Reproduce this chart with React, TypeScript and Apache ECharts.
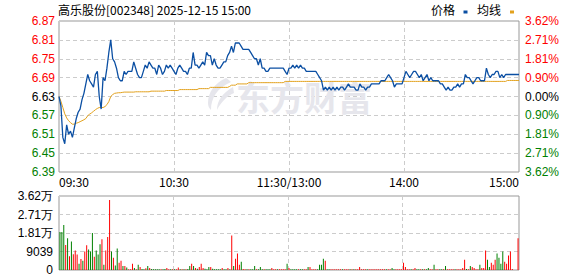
import React, { useEffect, useRef } from "react";
import * as echarts from "echarts";

// ---------- data ----------
const TITLE_TEXT = "高乐股份[002348] 2025-12-15 15:00";
const LEGEND_PRICE = "价格";
const LEGEND_AVG = "均线";
const WATERMARK = "东方财富";
const PRE_CLOSE = 6.63;
const PRICE_SPAN = 0.24; // half range around pre-close
const PRICE_STEP = 0.06;
const VOL_STEP = 9039;
const VOL_MAX = 36156;

const X_TICK_LABELS = ["09:30", "10:30", "11:30/13:00", "14:00", "15:00"];
const X_TICK_EVERY = 60;

const PRICE = [
  6.63, 6.60, 6.50, 6.48, 6.54, 6.51, 6.52, 6.50, 6.53, 6.56,
  6.58, 6.59, 6.62, 6.64, 6.67, 6.70, 6.68, 6.67, 6.66, 6.70,
  6.71, 6.63, 6.59, 6.69, 6.68, 6.72, 6.77, 6.81, 6.75, 6.74,
  6.72, 6.69, 6.68, 6.68, 6.71, 6.70, 6.71, 6.71, 6.71, 6.74,
  6.72, 6.70, 6.69, 6.69, 6.71, 6.73, 6.72, 6.74, 6.73, 6.72,
  6.72, 6.70, 6.73, 6.72, 6.70, 6.71, 6.73, 6.72, 6.73, 6.72,
  6.71, 6.70, 6.72, 6.73, 6.72, 6.71, 6.71, 6.70, 6.72, 6.72,
  6.77, 6.73, 6.73, 6.72, 6.73, 6.74, 6.73, 6.77, 6.76, 6.76,
  6.73, 6.75, 6.73, 6.72, 6.72, 6.73, 6.74, 6.74, 6.76, 6.77,
  6.79, 6.77, 6.80, 6.80, 6.80, 6.79, 6.78, 6.78, 6.78, 6.78,
  6.77, 6.76, 6.75, 6.75, 6.73, 6.75, 6.72, 6.72, 6.71, 6.71,
  6.72, 6.72, 6.72, 6.72, 6.72, 6.72, 6.72, 6.72, 6.71, 6.70,
  6.72, 6.72, 6.73, 6.72, 6.73, 6.72, 6.73, 6.72, 6.72, 6.71,
  6.71, 6.71, 6.71, 6.71, 6.71, 6.70, 6.69, 6.68, 6.65, 6.66,
  6.65, 6.66, 6.65, 6.66, 6.65, 6.66, 6.65, 6.66, 6.66, 6.65,
  6.66, 6.67, 6.66, 6.66, 6.66, 6.65, 6.65, 6.67, 6.66, 6.66,
  6.65, 6.66, 6.66, 6.67, 6.67, 6.67, 6.67, 6.67, 6.68, 6.68,
  6.68, 6.69, 6.70, 6.69, 6.68, 6.66, 6.67, 6.67, 6.67, 6.67,
  6.69, 6.71, 6.70, 6.69, 6.70, 6.71, 6.71, 6.70, 6.69, 6.70,
  6.68, 6.69, 6.70, 6.68, 6.69, 6.68, 6.68, 6.68, 6.68, 6.67,
  6.67, 6.66, 6.65, 6.66, 6.65, 6.65, 6.66, 6.66, 6.67, 6.66,
  6.67, 6.67, 6.70, 6.69, 6.69, 6.68, 6.67, 6.68, 6.69, 6.69,
  6.68, 6.68, 6.68, 6.72, 6.70, 6.69, 6.70, 6.70, 6.71, 6.71,
  6.69, 6.70, 6.69, 6.70, 6.70, 6.70, 6.70, 6.70, 6.70, 6.70,
  6.70,
];

const AVG = [
  6.630, 6.615, 6.595, 6.575, 6.562, 6.553, 6.547, 6.542, 6.542, 6.545,
  6.547, 6.550, 6.553, 6.556, 6.560, 6.569, 6.574, 6.578, 6.583, 6.588,
  6.592, 6.595, 6.595, 6.595, 6.598, 6.604, 6.614, 6.630, 6.636, 6.640,
  6.641, 6.642, 6.642, 6.643, 6.644, 6.644, 6.644, 6.644, 6.644, 6.644,
  6.645, 6.645, 6.645, 6.645, 6.645, 6.645, 6.645, 6.645, 6.647, 6.647,
  6.647, 6.647, 6.647, 6.647, 6.647, 6.647, 6.649, 6.649, 6.649, 6.649,
  6.649, 6.649, 6.649, 6.652, 6.652, 6.652, 6.652, 6.652, 6.652, 6.652,
  6.652, 6.652, 6.652, 6.655, 6.655, 6.655, 6.655, 6.655, 6.655, 6.659,
  6.659, 6.659, 6.659, 6.659, 6.659, 6.659, 6.659, 6.659, 6.659, 6.662,
  6.666, 6.666, 6.666, 6.670, 6.670, 6.670, 6.670, 6.670, 6.670, 6.674,
  6.674, 6.674, 6.674, 6.674, 6.674, 6.674, 6.674, 6.674, 6.674, 6.674,
  6.674, 6.674, 6.674, 6.674, 6.674, 6.674, 6.674, 6.674, 6.678, 6.678,
  6.678, 6.678, 6.678, 6.678, 6.678, 6.678, 6.678, 6.678, 6.678, 6.678,
  6.678, 6.678, 6.678, 6.678, 6.678, 6.678, 6.678, 6.678, 6.678, 6.678,
  6.678, 6.678, 6.678, 6.678, 6.678, 6.678, 6.678, 6.678, 6.678, 6.678,
  6.678, 6.678, 6.678, 6.678, 6.678, 6.678, 6.678, 6.678, 6.678, 6.678,
  6.678, 6.678, 6.678, 6.678, 6.678, 6.678, 6.678, 6.678, 6.678, 6.678,
  6.678, 6.678, 6.678, 6.678, 6.678, 6.678, 6.678, 6.678, 6.678, 6.678,
  6.678, 6.678, 6.678, 6.678, 6.678, 6.678, 6.678, 6.678, 6.678, 6.678,
  6.678, 6.678, 6.678, 6.678, 6.678, 6.678, 6.678, 6.678, 6.678, 6.678,
  6.678, 6.678, 6.678, 6.678, 6.678, 6.678, 6.678, 6.678, 6.678, 6.678,
  6.678, 6.678, 6.678, 6.678, 6.678, 6.678, 6.678, 6.678, 6.678, 6.678,
  6.678, 6.678, 6.678, 6.678, 6.678, 6.678, 6.678, 6.678, 6.678, 6.678,
  6.678, 6.678, 6.678, 6.678, 6.681, 6.681, 6.681, 6.681, 6.681, 6.681,
  6.681,
];

const VOLUME = [
  18580, 18580, 21930, 12220, 15570, 6700, 13890, 7700, 9540, 7530,
  3010, 5360, 4520, 9040, 12050, 10040, 9040, 18080, 6530, 9540,
  7530, 12560, 15070, 2510, 9540, 16070, 34150, 9040, 6030, 2180,
  10550, 3520, 4520, 2010, 2010, 1170, 335, 335, 3010, 1000,
  335, 2510, 1500, 500, 335, 840, 2010, 1000, 500, 400,
  400, 350, 400, 350, 400, 500, 1000, 400, 350, 400,
  350, 400, 1170, 400, 400, 350, 400, 500, 2010, 3010,
  2010, 1000, 670, 1500, 3010, 1000, 670, 400, 1500, 1500,
  670, 400, 400, 400, 350, 1000, 400, 400, 1000, 400,
  16900, 2010, 5520, 8040, 2510, 4020, 500, 400, 400, 350,
  400, 400, 2010, 400, 400, 1500, 400, 350, 400, 400,
  350, 1000, 400, 400, 350, 400, 350, 400, 400, 3010,
  1000, 400, 400, 350, 400, 350, 400, 350, 400, 400,
  1500, 1500, 350, 400, 350, 400, 2510, 2510, 5520, 4520,
  400, 350, 400, 350, 400, 400, 350, 400, 350, 400,
  400, 350, 400, 350, 400, 400, 350, 1500, 400, 350,
  400, 400, 350, 400, 350, 400, 400, 350, 400, 400,
  400, 350, 400, 400, 1000, 400, 350, 400, 350, 400,
  3520, 1500, 400, 350, 400, 400, 1000, 400, 350, 400,
  400, 350, 400, 1000, 400, 400, 2510, 400, 350, 400,
  350, 400, 2010, 400, 350, 400, 400, 350, 400, 350,
  400, 1000, 5020, 500, 400, 2010, 1500, 1000, 400, 400,
  2510, 1000, 1000, 9540, 5020, 1510, 3520, 2510, 5020, 8040,
  6030, 3010, 9040, 4020, 3010, 7030, 9040, 500, 0, 0,
  15570,
];

// R = up minute (red), G = down minute (green)
const VOL_DIR = (
  "GGGRGRGRRR" + "GRGRRGGGRG" + "GGRGRRRGRG" + "GRRGRGRRRG" + "RGRGGRGRGG" +
  "GGGRGGRRGR" + "GRRGRGRGGR" + "GRGRRRGGGR" + "GGGGGRGGRG" + "RGRRRGRRGR" +
  "GGGRGGGRGG" + "GRRRGRRRRG" + "RGGGGRGGRR" + "GRRRRGGGGR" + "GGRRRRRRGR" +
  "RRGRGRRRRR" + "RGRRRRRRRR" + "RGRRGGRRRR" + "RRRRGRRGGR" + "GRGGRRGRRG" +
  "GRGRRRRGRR" + "RRRGRGRRRR" + "GRRRGGRRRG" + "GGGRRRRRRR" + "R"
).split("");

// minute categories 09:30-11:30, 13:01-15:00
const pad = (n: number) => (n < 10 ? "0" + n : "" + n);
const TIMES: string[] = [];
for (let t = 9 * 60 + 30; t <= 11 * 60 + 30; t++) TIMES.push(pad(Math.floor(t / 60)) + ":" + pad(t % 60));
for (let t = 13 * 60 + 1; t <= 15 * 60; t++) TIMES.push(pad(Math.floor(t / 60)) + ":" + pad(t % 60));

// ---------- styles ----------
const C_UP = "#ff0000";
const C_DOWN = "#008000";
const C_PRICE = "#0b4fa3";
const C_AVG = "#e2a11d";
const C_GRID = "#cccccc";
const C_BORDER = "#999999";
const FONT_NUM = "Liberation Sans";
const FONT_CN = "Noto Sans CJK SC";

try {
  echarts.graphic.registerShape(
    "dfcfLogo",
    echarts.graphic.extendPath(
      "M20 0 C9 5 2 14 2 25 C2 28 3 30 5 32 C5 20 11 10 25 4 C23 2 22 1 20 0 Z M27 9 C17 15 11 22 11 32 C15 24 21 18 28 15 Z",
      {}
    )
  );
} catch (e) {
  // ignore
}

const labelColor = (v: any) => {
  const n = Number(v);
  if (n > 1e-9) return C_UP;
  if (n < -1e-9) return C_DOWN;
  return "#000000";
};

function buildOption(): any {
  const priceData = PRICE.map((p) => +(p - PRE_CLOSE).toFixed(4));
  const avgData = AVG.map((p) => +(p - PRE_CLOSE).toFixed(4));
  const volData = VOLUME.map((v, i) => ({
    value: v,
    itemStyle: { color: VOL_DIR[i] === "R" ? C_UP : C_DOWN },
  }));

  const dashed = { color: C_GRID, type: [4, 3], width: 1 };

  return {
    animation: false,
    backgroundColor: "#ffffff",
    title: {
      text: TITLE_TEXT,
      left: 58,
      top: 3,
      padding: 0,
      textStyle: { fontFamily: FONT_CN, fontSize: 12, fontWeight: "normal", color: "#000000" },
    },
    grid: [
      { left: 59, top: 21, width: 460, height: 151, show: true, borderColor: C_BORDER, borderWidth: 1, backgroundColor: "transparent", z: 0 },
      { left: 59, top: 196, width: 460, height: 74, show: true, borderColor: C_BORDER, borderWidth: 1, backgroundColor: "transparent", z: 0 },
    ],
    xAxis: [
      {
        type: "category",
        gridIndex: 0,
        data: TIMES,
        boundaryGap: false,
        axisLine: { show: false },
        axisTick: { show: false },
        axisLabel: {
          interval: (i: number) => i % X_TICK_EVERY === 0,
          formatter: (v: string, i: number) => X_TICK_LABELS[i / X_TICK_EVERY] ?? v,
          alignMinLabel: "left",
          alignMaxLabel: "right",
          fontFamily: FONT_CN,
          fontSize: 12,
          color: "#000000",
          margin: 3,
        },
        splitLine: {
          show: true,
          interval: (i: number) => i % X_TICK_EVERY === 0 && i > 0 && i < TIMES.length - 1,
          lineStyle: dashed,
        },
      },
      {
        type: "category",
        gridIndex: 1,
        data: TIMES,
        boundaryGap: true,
        axisLine: { show: false },
        axisTick: { show: false },
        axisLabel: { show: false },
        splitLine: {
          show: true,
          interval: (i: number) => i % X_TICK_EVERY === 0 && i > 0 && i < TIMES.length - 1,
          lineStyle: dashed,
        },
      },
    ],
    yAxis: [
      {
        type: "value",
        gridIndex: 0,
        position: "left",
        min: -PRICE_SPAN,
        max: PRICE_SPAN,
        interval: PRICE_STEP,
        axisLine: { show: false },
        axisTick: { show: false },
        axisLabel: {
          formatter: (v: number) => (v + PRE_CLOSE).toFixed(2),
          color: labelColor,
          fontFamily: FONT_NUM,
          fontSize: 12,
          margin: 4,
        },
        splitLine: { show: true, lineStyle: dashed },
      },
      {
        type: "value",
        gridIndex: 0,
        position: "right",
        min: -PRICE_SPAN,
        max: PRICE_SPAN,
        interval: PRICE_STEP,
        axisLine: { show: false },
        axisTick: { show: false },
        axisLabel: {
          formatter: (v: number) => ((Math.abs(v) / PRE_CLOSE) * 100).toFixed(2) + "%",
          color: labelColor,
          fontFamily: FONT_NUM,
          fontSize: 12,
          margin: 6,
        },
        splitLine: { show: false },
      },
      {
        type: "value",
        gridIndex: 1,
        position: "left",
        min: 0,
        max: VOL_MAX,
        interval: VOL_STEP,
        axisLine: { show: false },
        axisTick: { show: false },
        axisLabel: {
          formatter: (v: number) => (v >= 10000 ? (v / 10000).toFixed(2) + "万" : Math.round(v) + ""),
          color: "#000000",
          fontFamily: FONT_NUM,
          fontSize: 12,
          margin: 6,
        },
        splitLine: { show: true, lineStyle: dashed },
      },
    ],
    graphic: [
      {
        type: "dfcfLogo",
        x: 206,
        y: 78,
        scaleX: 1,
        scaleY: 1,
        z: 1,
        silent: true,
        style: { fill: "#e6e6ec" },
      },
      {
        type: "text",
        x: 236,
        y: 79,
        z: 1,
        silent: true,
        style: {
          text: WATERMARK,
          fontFamily: FONT_CN,
          fontSize: 34,
          fontWeight: "bold",
          fill: "#e6e6ec",
        },
      },
      {
        type: "text",
        x: 431,
        y: 9,
        style: { text: LEGEND_PRICE, fontFamily: FONT_CN, fontSize: 12, fill: "#000000", verticalAlign: "middle" },
      },
      { type: "rect", shape: { x: 463.5, y: 10.5, width: 4, height: 3 }, style: { fill: C_PRICE } },
      {
        type: "text",
        x: 477,
        y: 9,
        style: { text: LEGEND_AVG, fontFamily: FONT_CN, fontSize: 12, fill: "#000000", verticalAlign: "middle" },
      },
      { type: "rect", shape: { x: 510, y: 10.5, width: 4, height: 3 }, style: { fill: C_AVG } },
    ],
    series: [
      {
        name: LEGEND_AVG,
        type: "line",
        xAxisIndex: 0,
        yAxisIndex: 0,
        data: avgData,
        showSymbol: false,
        symbol: "none",
        lineStyle: { color: C_AVG, width: 1 },
        z: 3,
      },
      {
        name: LEGEND_PRICE,
        type: "line",
        xAxisIndex: 0,
        yAxisIndex: 0,
        data: priceData,
        showSymbol: false,
        symbol: "none",
        lineStyle: { color: C_PRICE, width: 1.3 },
        z: 4,
      },
      {
        name: "成交量",
        type: "bar",
        xAxisIndex: 1,
        yAxisIndex: 2,
        data: volData,
        barWidth: 1,
        z: 3,
      },
    ],
  };
}

export default function App() {
  const ref = useRef<HTMLDivElement>(null);
  useEffect(() => {
    if (!ref.current) return;
    const chart = echarts.init(ref.current, null, { renderer: "svg" });
    chart.setOption(buildOption());
    return () => chart.dispose();
  }, []);
  return (
    <div
      ref={ref}
      style={{ position: "fixed", left: 0, top: 0, width: 578, height: 276, background: "#ffffff" }}
    />
  );
}
